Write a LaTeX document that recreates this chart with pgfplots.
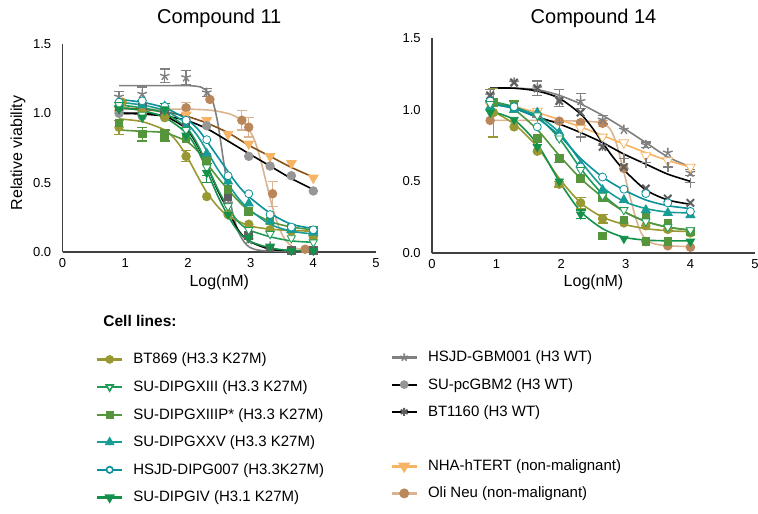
\documentclass[border=0pt]{standalone}
\usepackage{fontspec}
\setmainfont{Liberation Sans}
\usepackage{pgfplots}
\pgfplotsset{compat=1.18}

\definecolor{cBT869}{RGB}{153,153,51}
\definecolor{cXIII}{RGB}{30,155,85}
\definecolor{cXIIIP}{RGB}{85,150,60}
\definecolor{cXXV}{RGB}{25,155,150}
\definecolor{cDIPG}{RGB}{10,145,155}
\definecolor{cIV}{RGB}{20,145,75}
\definecolor{cGBM}{RGB}{128,128,128}
\definecolor{cPC}{RGB}{150,150,150}
\definecolor{cBT1160}{RGB}{95,95,95}
\definecolor{cNHA}{RGB}{247,180,100}
\definecolor{cNHAline}{RGB}{135,80,25}
\definecolor{cOli}{RGB}{185,135,90}
\definecolor{cOliline}{RGB}{218,180,145}

\newcommand\fs[1]{\fontsize{#1}{#1}\selectfont}

\pgfplotsset{
  panel/.style={
    scale only axis, anchor=south west,
    xmin=0, xmax=5, ymin=0, ymax=1.5,
    axis lines*=left, axis line style={draw=black!75, line width=0.8pt, -},
    xtick={0,1,2,3,4,5}, ytick={0,0.5,1,1.5},
    major tick length=0pt,
    tick label style={font=\fs{6.5}, inner sep=0pt},
    xticklabel style={yshift=-3pt},
    yticklabel style={xshift=-5.5pt},
    y tick label style={/pgf/number format/.cd, fixed, fixed zerofill, precision=1},
    /pgf/number format/assume math mode=true,
    label style={font=\fs{8}},
    clip=false,
  },
  fit/.style={smooth, tension=0.45, no markers, line width=0.8pt},
  mk/.style={only marks, mark size=2pt, mark options={solid, line width=0.7pt}},
  eb/.style={draw=none, no markers, forget plot,
    error bars/.cd, y dir=both, y explicit,
    error bar style={draw=#1, line width=0.6pt},
    error mark options={draw=#1, rotate=90, mark size=2.5pt, line width=0.6pt}},
}

\begin{document}
\begin{tikzpicture}
\useasboundingbox (0,0) rectangle (379pt,-256.5pt);

% ---------------- Compound 11 ----------------
\begin{axis}[panel, at={(31.3pt,-126pt)}, width=156.7pt, height=104pt,
  title={Compound 11},
  every axis title/.style={at={(axis description cs:0.5,1.125)}, anchor=center, font=\fs{10}},
  xlabel={Log(nM)}, xlabel style={at={(axis description cs:0.5,-0.144)}, anchor=center},
  ylabel={Relative viability}, ylabel style={at={(axis description cs:-0.1423,0.476)}, anchor=center}]

% fitted curves
\addplot[fit, cOliline] coordinates {(0.85,1.03)(2.0,1.03)(2.4,1.02)(2.7,0.99)(2.9,0.93)(3.05,0.82)(3.15,0.68)(3.25,0.5)(3.35,0.32)(3.45,0.18)(3.55,0.09)(3.7,0.03)(4.0,0.01)};
\addplot[fit, cGBM] coordinates {(0.9,1.2)(1.63,1.2)(2.0,1.2)(2.2,1.19)(2.3,1.16)(2.4,1.08)(2.48,0.92)(2.56,0.68)(2.64,0.45)(2.72,0.27)(2.8,0.15)(2.9,0.07)(3.0,0.03)(3.2,0.01)(4.0,0.0)};
\addplot[fit, cNHAline] coordinates {(0.9,1.04)(1.27,1.03)(1.63,1.01)(1.97,0.98)(2.3,0.93)(2.64,0.86)(2.97,0.77)(3.31,0.69)(3.65,0.61)(4.0,0.54)};
\addplot[fit, black] coordinates {(0.9,1.0)(1.27,0.995)(1.63,0.98)(1.97,0.95)(2.3,0.89)(2.64,0.8)(2.97,0.71)(3.31,0.62)(3.65,0.53)(4.0,0.45)};
\addplot[fit, black] coordinates {(0.9,1.0)(1.27,1.0)(1.63,0.98)(1.97,0.89)(2.15,0.77)(2.3,0.63)(2.47,0.45)(2.64,0.3)(2.8,0.16)(2.97,0.08)(3.31,0.02)(3.65,0.01)(4.0,0.005)};
\addplot[fit, cBT869] coordinates {(0.9,0.96)(1.27,0.94)(1.63,0.88)(1.8,0.81)(1.97,0.7)(2.15,0.55)(2.3,0.43)(2.47,0.33)(2.64,0.26)(2.97,0.19)(3.31,0.165)(3.65,0.155)(4.0,0.15)};
\addplot[fit, cXIII] coordinates {(0.9,1.06)(1.27,1.04)(1.63,1.0)(1.97,0.9)(2.15,0.78)(2.3,0.63)(2.47,0.46)(2.64,0.32)(2.8,0.22)(2.97,0.16)(3.31,0.11)(3.65,0.08)(4.0,0.07)};
\addplot[fit, cXIIIP] coordinates {(0.9,0.88)(1.27,0.87)(1.63,0.86)(1.97,0.8)(2.15,0.73)(2.3,0.64)(2.47,0.54)(2.64,0.45)(2.8,0.37)(2.97,0.3)(3.31,0.22)(3.65,0.18)(4.0,0.16)};
\addplot[fit, cXXV] coordinates {(0.9,1.08)(1.27,1.06)(1.63,1.02)(1.97,0.93)(2.15,0.84)(2.3,0.73)(2.47,0.6)(2.64,0.49)(2.8,0.39)(2.97,0.31)(3.31,0.2)(3.65,0.15)(4.0,0.13)};
\addplot[fit, cDIPG] coordinates {(0.9,1.1)(1.27,1.08)(1.63,1.04)(1.97,0.96)(2.15,0.89)(2.3,0.8)(2.47,0.69)(2.64,0.58)(2.8,0.48)(2.97,0.4)(3.31,0.28)(3.65,0.2)(4.0,0.17)};
\addplot[fit, cIV] coordinates {(0.9,1.04)(1.27,1.02)(1.63,0.97)(1.97,0.86)(2.15,0.74)(2.3,0.59)(2.47,0.41)(2.64,0.26)(2.8,0.15)(2.97,0.08)(3.31,0.03)(3.65,0.01)(4.0,0.01)};

% error bars
\addplot[eb=cGBM] coordinates {(0.9,1.12) +- (0,0.04) (1.27,1.14) +- (0,0.05) (1.63,1.27) +- (0,0.05) (1.97,1.26) +- (0,0.05) (2.3,1.15) +- (0,0.03)};
\addplot[eb=cOliline] coordinates {(1.97,1.04) +- (0,0.04) (2.86,0.95) +- (0,0.07) (2.97,0.9) +- (0,0.07) (3.35,0.42) +- (0,0.09)};
\addplot[eb=cBT869] coordinates {(0.9,0.9) +- (0,0.05) (1.97,0.69) +- (0,0.04)};
\addplot[eb=cXIIIP] coordinates {(1.27,0.85) +- (0,0.05) (1.63,0.84) +- (0,0.04)};
\addplot[eb=cIV] coordinates {(1.63,1.03) +- (0,0.04) (2.3,0.57) +- (0,0.07)};
\addplot[eb=cXIII] coordinates {(2.3,0.61) +- (0,0.06)};

% data points
\addplot[mk, cOli, mark=*] coordinates {(0.9,1.02)(1.27,1.0)(1.63,1.02)(1.97,1.04)(2.35,1.1)(2.86,0.95)(2.97,0.9)(3.35,0.42)(3.87,0.02)(4.0,0.01)};
\addplot[mk, cGBM, mark=star, mark size=2.5pt] coordinates {(0.9,1.12)(1.27,1.14)(1.63,1.27)(1.97,1.26)(2.3,1.15)(2.64,0.35)(2.97,0.086)(3.31,0.04)(3.65,0.01)(4.0,0.01)};
\addplot[mk, cNHA, mark=triangle*, mark size=2.8pt, mark options={rotate=180}] coordinates {(0.9,1.03)(1.27,1.03)(1.63,1.02)(1.97,0.99)(2.3,0.95)(2.64,0.85)(2.97,0.78)(3.31,0.69)(3.65,0.64)(4.0,0.535)};
\addplot[mk, cPC, mark=*] coordinates {(0.9,1.0)(1.27,0.98)(1.63,0.97)(1.97,0.95)(2.3,0.91)(2.97,0.69)(3.31,0.62)(3.65,0.55)(4.0,0.44)};
\addplot[mk, cBT1160, mark=square*, mark size=1.8pt] coordinates {(0.9,1.05)(1.27,1.04)(1.63,1.0)(1.97,0.92)(2.3,0.68)(2.64,0.4)(2.97,0.12)(3.31,0.03)(3.65,0.01)(4.0,0.01)};
\addplot[mk, cBT869, mark=*] coordinates {(0.9,0.9)(0.95,1.08)(1.27,1.01)(1.63,0.97)(1.97,0.69)(2.3,0.4)(2.64,0.27)(2.97,0.2)(3.31,0.16)(3.65,0.15)(4.0,0.11)};
\addplot[mk, cXIIIP, mark=square*, mark size=1.8pt] coordinates {(0.9,0.93)(1.27,0.85)(1.63,0.84)(1.97,0.82)(2.3,0.66)(2.64,0.45)(2.97,0.29)(3.31,0.225)(3.65,0.17)(4.0,0.16)};
\addplot[mk, cXXV, mark=triangle*, mark size=2.3pt] coordinates {(0.9,1.07)(1.27,1.06)(1.63,1.05)(1.97,0.9)(2.3,0.71)(2.64,0.51)(2.97,0.35)(3.31,0.22)(3.65,0.16)(4.0,0.14)};
\addplot[mk, cDIPG, mark=*, mark options={fill=white}] coordinates {(0.9,1.08)(1.27,1.09)(1.63,1.05)(1.97,0.95)(2.3,0.81)(2.64,0.55)(2.97,0.42)(3.31,0.27)(3.65,0.18)(4.0,0.16)};
\addplot[mk, cXIII, mark=triangle*, mark size=2.4pt, mark options={rotate=180, fill=white}] coordinates {(0.9,1.06)(1.27,0.99)(1.63,1.02)(1.97,0.88)(2.3,0.61)(2.64,0.33)(2.97,0.16)(3.31,0.13)(3.65,0.1)(4.0,0.07)};
\addplot[mk, cIV, mark=triangle*, mark size=2.4pt, mark options={rotate=180}] coordinates {(0.9,1.03)(1.27,0.97)(1.63,1.03)(1.97,0.84)(2.3,0.57)(2.64,0.27)(2.97,0.1)(3.31,0.04)(3.65,0.01)(4.0,0.01)};
\end{axis}

% ---------------- Compound 14 ----------------
\begin{axis}[panel, at={(216pt,-126.5pt)}, width=161.5pt, height=107.5pt,
  title={Compound 14},
  every axis title/.style={at={(axis description cs:0.5,1.093)}, anchor=center, font=\fs{10}},
  xlabel={Log(nM)}, xlabel style={at={(axis description cs:0.5,-0.135)}, anchor=center}]

\addplot[fit, cOliline] coordinates {(0.9,0.925)(1.63,0.925)(2.3,0.92)(2.6,0.91)(2.75,0.87)(2.85,0.77)(2.95,0.6)(3.05,0.42)(3.15,0.25)(3.25,0.13)(3.4,0.07)(3.65,0.05)(4.0,0.045)};
\addplot[fit, cGBM] coordinates {(0.9,1.15)(1.27,1.15)(1.63,1.14)(1.97,1.1)(2.3,1.04)(2.64,0.96)(2.97,0.87)(3.31,0.77)(3.65,0.67)(4.0,0.6)};
\addplot[fit, cNHA] coordinates {(0.9,1.04)(1.27,1.02)(1.63,0.98)(1.97,0.93)(2.3,0.88)(2.64,0.82)(2.97,0.76)(3.31,0.7)(3.65,0.645)(4.0,0.6)};
\addplot[fit, black] coordinates {(0.9,1.06)(1.27,1.01)(1.63,0.95)(1.97,0.9)(2.3,0.84)(2.64,0.77)(2.97,0.69)(3.31,0.62)(3.65,0.55)(4.0,0.5)};
\addplot[fit, black] coordinates {(0.9,1.15)(1.27,1.15)(1.63,1.13)(1.97,1.08)(2.3,0.97)(2.47,0.88)(2.64,0.77)(2.8,0.67)(2.97,0.58)(3.31,0.44)(3.65,0.37)(4.0,0.34)};
\addplot[fit, cBT869] coordinates {(0.9,1.0)(1.27,0.9)(1.63,0.74)(1.97,0.52)(2.3,0.35)(2.64,0.25)(2.97,0.2)(3.31,0.17)(3.65,0.155)(4.0,0.15)};
\addplot[fit, cXIII] coordinates {(0.9,1.06)(1.27,1.02)(1.63,0.95)(1.97,0.8)(2.3,0.59)(2.64,0.41)(2.97,0.29)(3.31,0.22)(3.65,0.18)(4.0,0.16)};
\addplot[fit, cXIIIP] coordinates {(0.9,1.06)(1.27,1.0)(1.63,0.86)(1.97,0.68)(2.3,0.52)(2.64,0.39)(2.97,0.29)(3.31,0.22)(3.65,0.18)(4.0,0.16)};
\addplot[fit, cXXV] coordinates {(0.9,1.04)(1.27,1.01)(1.63,0.96)(1.97,0.84)(2.3,0.64)(2.64,0.46)(2.97,0.36)(3.31,0.31)(3.65,0.285)(4.0,0.28)};
\addplot[fit, cDIPG] coordinates {(0.9,1.04)(1.27,1.01)(1.63,0.94)(1.97,0.82)(2.3,0.66)(2.64,0.53)(2.97,0.44)(3.31,0.37)(3.65,0.33)(4.0,0.31)};
\addplot[fit, cIV] coordinates {(0.9,0.99)(1.27,0.93)(1.63,0.76)(1.97,0.5)(2.3,0.29)(2.64,0.17)(2.97,0.11)(3.31,0.09)(3.65,0.085)(4.0,0.085)};

\addplot[eb=cGBM] coordinates {(0.9,1.1) +- (0,0.04) (1.63,1.15) +- (0,0.05) (1.97,1.08) +- (0,0.06) (2.3,1.06) +- (0,0.05) (2.64,0.93) +- (0,0.03) (3.31,0.755) +- (0,0.02) (4.0,0.56) +- (0,0.02)};
\addplot[eb=cBT869] coordinates {(0.95,0.98) +- (0,0.17) (1.97,0.48) +- (0,0.02) (2.3,0.35) +- (0,0.04) (2.64,0.24) +- (0,0.03)};
\addplot[eb=cXIIIP] coordinates {(1.27,1.02) +- (0,0.04) (1.97,0.66) +- (0,0.03) (2.3,0.52) +- (0,0.03) (2.64,0.39) +- (0,0.03)};
\addplot[eb=cIV] coordinates {(2.3,0.27) +- (0,0.03)};
\addplot[eb=cOliline] coordinates {(2.64,0.905) +- (0,0.02)};

\addplot[mk, cOli, mark=*] coordinates {(0.9,0.925)(1.97,0.92)(2.3,0.91)(2.64,0.905)(2.97,0.59)(3.31,0.08)(3.65,0.05)(4.0,0.04)};
\addplot[mk, cGBM, mark=star, mark size=2.5pt] coordinates {(0.9,1.1)(1.27,1.19)(1.63,1.15)(1.97,1.08)(2.3,1.06)(2.64,0.93)(2.97,0.86)(3.31,0.755)(3.65,0.7)(4.0,0.56)};
\addplot[mk, cNHA, mark=triangle*, mark size=2.8pt, mark options={rotate=180, fill=white}] coordinates {(0.9,1.03)(1.63,0.99)(2.3,0.87)(2.64,0.81)(2.97,0.77)(3.31,0.68)(3.65,0.645)(4.0,0.6)};
\addplot[mk, cGBM, mark=+, mark size=2.5pt] coordinates {(1.63,0.95)(1.97,0.91)(2.3,0.81)(2.64,0.75)(2.97,0.66)(3.31,0.63)(3.65,0.6)(4.0,0.49)};
\addplot[mk, cBT1160, mark=x, mark size=2.6pt, mark options={line width=1pt}] coordinates {(0.9,1.1)(1.27,1.19)(1.63,1.15)(1.97,1.06)(2.3,0.98)(2.64,0.74)(2.97,0.6)(3.31,0.45)(3.65,0.38)(4.0,0.35)};
\addplot[mk, cBT869, mark=*] coordinates {(0.95,0.98)(1.27,0.88)(1.63,0.71)(1.97,0.48)(2.3,0.35)(2.64,0.24)(2.97,0.21)(3.31,0.19)(3.65,0.165)(4.0,0.14)};
\addplot[mk, cXIIIP, mark=square*, mark size=1.8pt] coordinates {(0.95,1.05)(1.27,1.02)(1.63,0.8)(1.97,0.66)(2.3,0.52)(2.64,0.39)(2.97,0.23)(3.31,0.25)(3.65,0.21)(4.0,0.15)(2.64,0.12)(3.31,0.08)(3.65,0.08)};
\addplot[mk, cXXV, mark=triangle*, mark size=2.3pt] coordinates {(0.9,1.02)(1.27,1.0)(1.63,0.98)(1.97,0.84)(2.3,0.62)(2.64,0.44)(2.97,0.37)(3.31,0.3)(3.65,0.28)(4.0,0.265)};
\addplot[mk, cDIPG, mark=*, mark options={fill=white}] coordinates {(0.9,1.06)(1.27,1.02)(1.63,0.88)(1.97,0.81)(2.3,0.6)(2.64,0.53)(2.97,0.445)(3.31,0.415)(3.65,0.35)(4.0,0.29)};
\addplot[mk, cXIII, mark=triangle*, mark size=2.4pt, mark options={rotate=180, fill=white}] coordinates {(0.9,1.04)(1.63,0.96)(1.97,0.8)(2.3,0.58)(2.64,0.4)(2.97,0.3)(3.31,0.22)(3.65,0.18)(4.0,0.16)};
\addplot[mk, cIV, mark=triangle*, mark size=2.4pt, mark options={rotate=180}] coordinates {(0.9,0.98)(1.27,0.93)(1.63,0.74)(1.97,0.5)(2.3,0.27)(2.97,0.1)(4.0,0.08)};
\end{axis}

% ---------------- legend ----------------
\node[anchor=west, inner sep=0pt, font=\bfseries\fs{7.75}] at (51.5pt,-160.5pt) {Cell lines:};

\pgfplotsset{
  lgd/.style={hide axis, scale only axis, width=10pt, height=10pt,
    xmin=0, xmax=1, ymin=0, ymax=1, anchor=north west,
    legend cell align=left,
    legend image code/.code={\draw[mark repeat=2,mark phase=2] plot coordinates {(0pt,0pt)(6.25pt,0pt)(12.5pt,0pt)};},
    legend style={at={(0,1)}, anchor=north west, draw=none, fill=none,
      inner sep=0pt, column sep=5pt, row sep=#1,
      font=\fs{7.5}, nodes={inner sep=0pt, text height=6pt, text depth=1.5pt}}},
}
\begin{axis}[lgd=6.3pt, at={(47.85pt,-175.75pt)}]
\addlegendimage{cBT869, line width=1.1pt, mark=*, mark size=1.6pt}
\addlegendentry{BT869 (H3.3 K27M)}
\addlegendimage{cXIII, line width=1.1pt, mark=triangle*, mark size=2pt, mark options={rotate=180, fill=white, line width=0.8pt}}
\addlegendentry{SU-DIPGXIII (H3.3 K27M)}
\addlegendimage{cXIIIP, line width=1.1pt, mark=square*, mark size=1.5pt}
\addlegendentry{SU-DIPGXIIIP* (H3.3 K27M)}
\addlegendimage{cXXV, line width=1.1pt, mark=triangle*, mark size=1.8pt}
\addlegendentry{SU-DIPGXXV (H3.3 K27M)}
\addlegendimage{cDIPG, line width=1.1pt, mark=*, mark size=1.6pt, mark options={fill=white, line width=0.8pt}}
\addlegendentry{HSJD-DIPG007 (H3.3K27M)}
\addlegendimage{cIV, line width=1.1pt, mark=triangle*, mark size=2pt, mark options={rotate=180}}
\addlegendentry{SU-DIPGIV (H3.1 K27M)}
\end{axis}

\begin{axis}[lgd=6.1pt, at={(195pt,-174.75pt)}]
\addlegendimage{cGBM, line width=1.1pt, mark=star, mark size=2pt, mark options={line width=0.8pt}}
\addlegendentry{HSJD-GBM001 (H3 WT)}
\addlegendimage{black, line width=1.1pt, mark=*, mark size=1.6pt, mark options={cPC}}
\addlegendentry{SU-pcGBM2 (H3 WT)}
\addlegendimage{black, line width=1.1pt, mark=asterisk, mark size=2pt, mark options={cBT1160, line width=1pt}}
\addlegendentry{BT1160 (H3 WT)}
\addlegendimage{empty legend}
\addlegendentry{}
\addlegendimage{cNHA, line width=1.3pt, mark=triangle*, mark size=2.2pt, mark options={rotate=180}}
\addlegendentry{NHA-hTERT (non-malignant)}
\addlegendimage{cOliline, line width=1.3pt, mark=*, mark size=1.8pt, mark options={cOli}}
\addlegendentry{Oli Neu (non-malignant)}
\end{axis}
\end{tikzpicture}
\end{document}
